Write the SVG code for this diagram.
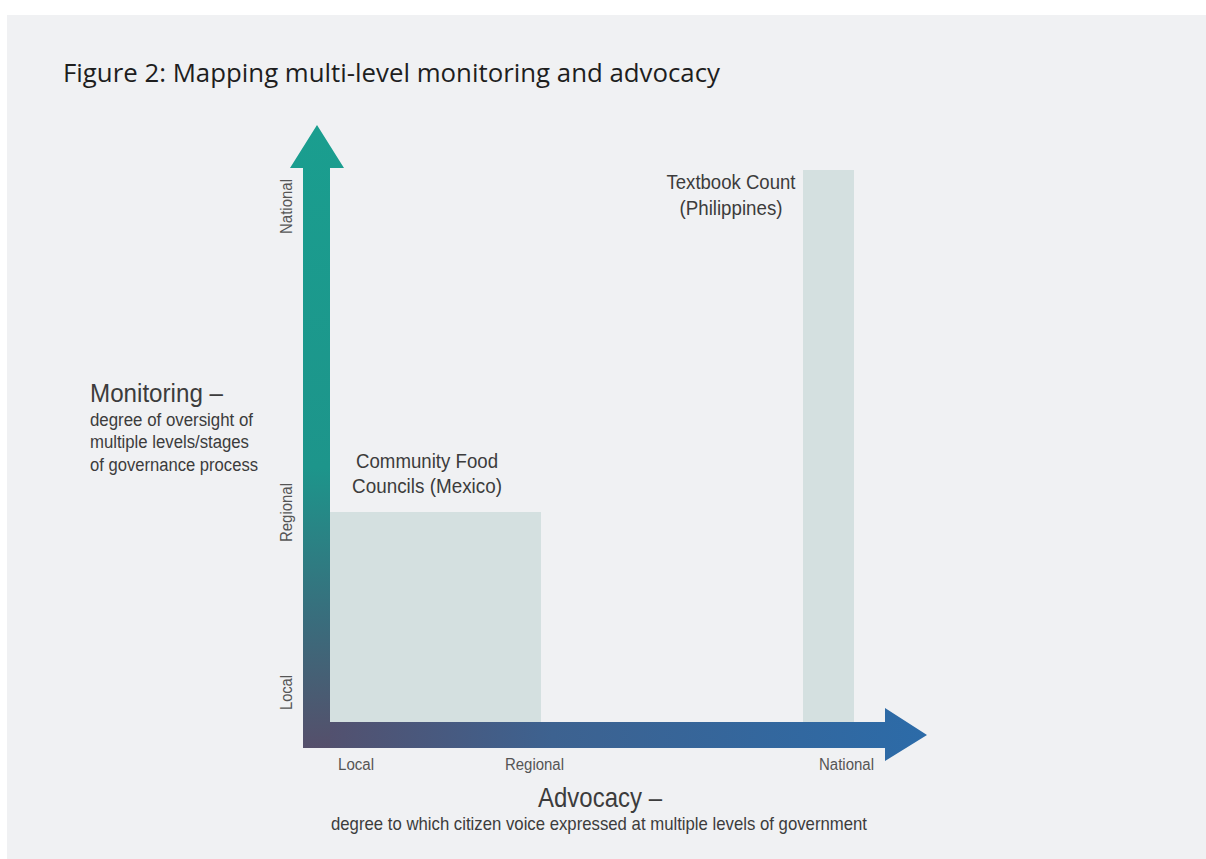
<svg xmlns="http://www.w3.org/2000/svg" width="1206" height="859" viewBox="0 0 1206 859">
<style>
.t{font-family:"Liberation Sans",Arial,sans-serif;fill:#3c3c3c}
.ax{font-family:"Liberation Sans",Arial,sans-serif;fill:#555;font-size:16px}
.title{font-family:"Open Sans","Liberation Sans",sans-serif;fill:#1e1e1e;font-size:26px;font-weight:500}
.box{fill:#d4e0e0}
</style>
<defs>
<linearGradient id="gv" gradientUnits="userSpaceOnUse" x1="0" y1="125" x2="0" y2="748">
<stop offset="0" stop-color="#1a9e8f"/>
<stop offset="0.55" stop-color="#1d958b"/>
<stop offset="0.8" stop-color="#3a6c7c"/>
<stop offset="1" stop-color="#554f6b"/>
</linearGradient>
<linearGradient id="gh" gradientUnits="userSpaceOnUse" x1="303" y1="0" x2="927" y2="0">
<stop offset="0" stop-color="#554f6b"/>
<stop offset="0.4" stop-color="#3d6290"/>
<stop offset="1" stop-color="#2c6ba8"/>
</linearGradient>
</defs>
<rect x="7" y="15" width="1199" height="844" fill="#f0f1f3"/>
<text class="title" x="63" y="82" textLength="657" lengthAdjust="spacingAndGlyphs">Figure 2: Mapping multi-level monitoring and advocacy</text>

<g id="community-food-councils">
<rect class="box" x="330" y="512" width="211" height="210"/>
<text class="t" font-size="21" text-anchor="middle" x="427" y="468" textLength="142" lengthAdjust="spacingAndGlyphs">Community Food</text>
<text class="t" font-size="21" text-anchor="middle" x="427" y="493" textLength="150" lengthAdjust="spacingAndGlyphs">Councils (Mexico)</text>
</g>
<g id="textbook-count">
<rect class="box" x="803" y="170" width="51" height="552"/>
<text class="t" font-size="21" text-anchor="middle" x="731" y="189" textLength="129" lengthAdjust="spacingAndGlyphs">Textbook Count</text>
<text class="t" font-size="21" text-anchor="middle" x="731" y="215" textLength="103" lengthAdjust="spacingAndGlyphs">(Philippines)</text>
</g>

<g id="connectors">
<path id="monitoring-axis" fill="url(#gv)" d="M317,125 L344,168 L330,168 L330,748 L303,748 L303,168 L290,168 Z"/>
<path id="advocacy-axis" fill="url(#gh)" d="M330,722 L885,722 L885,708 L927,735 L885,761 L885,748 L330,748 Z"/>
</g>

<g id="monitoring-label">
<text class="t" font-size="26" x="90" y="402" textLength="133" lengthAdjust="spacingAndGlyphs">Monitoring –</text>
<text class="t" font-size="18" x="90" y="426" textLength="163" lengthAdjust="spacingAndGlyphs">degree of oversight of</text>
<text class="t" font-size="18" x="90" y="448" textLength="159" lengthAdjust="spacingAndGlyphs">multiple levels/stages</text>
<text class="t" font-size="18" x="90" y="471" textLength="168" lengthAdjust="spacingAndGlyphs">of governance process</text>
</g>
<g id="monitoring-ticks">
<text class="ax" transform="translate(292,234) rotate(-90)" textLength="55" lengthAdjust="spacingAndGlyphs">National</text>
<text class="ax" transform="translate(292,542) rotate(-90)" textLength="59" lengthAdjust="spacingAndGlyphs">Regional</text>
<text class="ax" transform="translate(292,710) rotate(-90)" textLength="35" lengthAdjust="spacingAndGlyphs">Local</text>
</g>
<g id="advocacy-ticks">
<text class="ax" x="338" y="770" textLength="36" lengthAdjust="spacingAndGlyphs">Local</text>
<text class="ax" x="505" y="770" textLength="59" lengthAdjust="spacingAndGlyphs">Regional</text>
<text class="ax" x="819" y="770" textLength="55" lengthAdjust="spacingAndGlyphs">National</text>
</g>
<g id="advocacy-label">
<text class="t" font-size="28" x="538" y="807" textLength="124" lengthAdjust="spacingAndGlyphs">Advocacy –</text>
<text class="t" font-size="19" x="331" y="830" textLength="536" lengthAdjust="spacingAndGlyphs">degree to which citizen voice expressed at multiple levels of government</text>
</g>
</svg>
